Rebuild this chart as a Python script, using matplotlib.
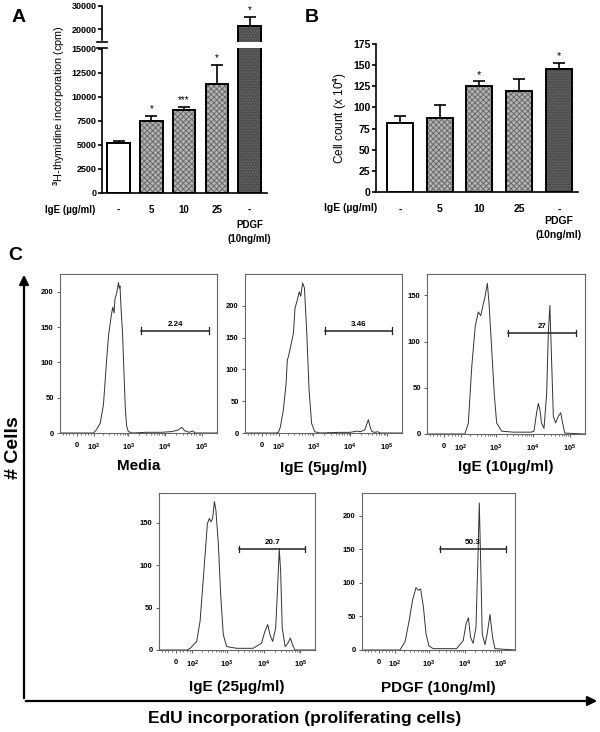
import numpy as np
import matplotlib
matplotlib.use('Agg')
import matplotlib.pyplot as plt
from matplotlib.patches import FancyArrowPatch

plt.rcParams['font.family'] = ['Liberation Sans', 'DejaVu Sans']
plt.rcParams['font.weight'] = 'bold'
plt.rcParams['mathtext.fontset'] = 'custom'
plt.rcParams['mathtext.rm'] = 'Liberation Sans'
plt.rcParams['mathtext.bf'] = 'Liberation Sans:bold'
plt.rcParams['hatch.linewidth'] = 0.7

# ---- panel A / B data ----
groups = ['-', '5', '10', '25', '-']
thy_mean = [5210, 7500, 8620, 11320, 21500]
thy_err = [200, 520, 340, 2050, 3800]
thy_stars = ['', '*', '***', '*', '*']

count_mean = [81, 87, 125, 120, 145]
count_err = [9, 16, 6, 14, 8]
count_stars = ['', '', '*', '', '*']

# ---- panel C histograms (EdU fluorescence, # cells) ----
media_x = [-104, 60, 99, 127, 165, 205, 235, 254, 290, 340, 375, 410, 433, 483, 540, 570, 595, 630, 700,
           770, 830, 900, 1000, 1300, 3000, 8000, 15000, 22000, 28000, 34000, 45000, 55000, 65000, 90000, 252000]
media_y = [0, 0, 0, 5, 14, 40, 80, 105, 140, 165, 178, 170, 190, 198, 213, 205, 208, 180, 140,
           80, 35, 10, 2, 0, 1, 1, 2, 4, 8, 3, 1, 3, 0, 0, 0]

ige5_x = [-104, 80, 99, 115, 144, 175, 190, 205, 225, 285, 315, 365, 415, 455, 510, 575, 665, 770, 900, 1100,
          1500, 5000, 10000, 14900, 19000, 24800, 28000, 31000, 34500, 38000, 45000, 56000, 65000, 252000]
ige5_y = [0, 0, 1, 9, 36, 78, 115, 120, 130, 157, 196, 209, 222, 215, 236, 228, 157, 67, 15, 2,
          0, 1, 1, 3, 2, 5, 14, 21, 10, 3, 1, 2, 0, 0]

ige10_x = [-104, 100, 137, 175, 220, 275, 335, 392, 440, 510, 595, 670, 780, 910, 1060, 1450, 3000, 6000, 9000,
           10700, 12600, 14000, 15500, 17000, 19900, 23500, 26000, 28600, 31200, 35500, 41000, 48000, 56000,
           63000, 72000, 252000]
ige10_y = [0, 0, 0, 12, 73, 116, 132, 128, 137, 148, 163, 137, 91, 44, 12, 3, 2, 2, 2,
           3, 23, 33, 26, 12, 6, 44, 109, 139, 91, 19, 12, 19, 23,
           12, 1, 0]

ige25_x = [-104, 60, 84, 140, 178, 212, 250, 290, 330, 365, 407, 455, 500, 585, 675, 800, 990, 1850, 5200,
           8800, 10900, 13000, 15000, 17700, 21400, 24200, 26800, 29200, 32300, 38700, 46000, 53500, 62000,
           71500, 252000]
ige25_y = [0, 0, 2, 10, 34, 74, 113, 149, 155, 151, 155, 175, 165, 125, 66, 18, 4, 2, 2,
           8, 22, 30, 18, 10, 26, 74, 119, 93, 26, 4, 8, 14, 6,
           0, 0]

pdgf_x = [-104, 100, 150, 215, 285, 355, 445, 515, 600, 720, 850, 1030, 1350, 6000, 9200, 11000, 12800, 14700,
          17300, 20800, 23500, 25700, 28000, 31000, 37000, 42500, 51000, 60000, 70000, 252000]
pdgf_y = [0, 0, 0, 12, 44, 74, 93, 89, 91, 64, 24, 6, 2, 2, 14, 39, 48, 19,
          10, 34, 134, 219, 134, 24, 8, 24, 53, 19, 2, 0]

hist_titles = ['Media', 'IgE (5\u00b5g/ml)', 'IgE (10\u00b5g/ml)', 'IgE (25\u00b5g/ml)', 'PDGF (10ng/ml)']
gate_lo = [2200, 2100, 2200, 2200, 2100]
gate_hi = [155000, 138000, 140000, 135000, 140000]
gate_y = [145, 161, 109, 119, 151]
gate_pct = ['2.24', '3.46', '27', '20.7', '50.3']
hist_ymax = [225, 250, 173, 185, 234]

W, H = 600, 732
fig = plt.figure(figsize=(6, 7.32), dpi=100)


def px_axes(x0, y0, x1, y1):
    return fig.add_axes([x0 / W, (H - y1) / H, (x1 - x0) / W, (y1 - y0) / H])


light = '#b4b4b4'
dark = '#4e4e4e'
faces = ['white', light, light, light, dark]
hatches = [None, 'xxxxxx', 'xxxxxx', 'xxxxxx', '......']
hcols = ['white', '#6a6a6a', '#6a6a6a', '#6a6a6a', '#6c6c6c']


def draw_bars(ax, x, mean, err, width):
    for i in range(len(x)):
        ax.bar(x[i], mean[i], width, color=faces[i], edgecolor=hcols[i], hatch=hatches[i], lw=0, zorder=2)
        ax.bar(x[i], mean[i], width, fill=False, edgecolor='black', lw=1.4, zorder=3)
    ax.errorbar(x, mean, yerr=[[0] * len(x), err], fmt='none', ecolor='black',
                elinewidth=1.2, capsize=4, capthick=1.2, zorder=1)


def stars(ax, x, mean, err, labels, fs):
    for xi, m, e, s in zip(x, mean, err, labels):
        if s:
            ax.annotate(s, (xi, m + e), xytext=(0, 1), textcoords='offset points',
                        ha='center', va='bottom', fontsize=fs, fontweight='normal')


# ---------------- Panel A ----------------
x = np.arange(5)
axA = px_axes(102, 47.7, 267, 192.7)
axA_hi = px_axes(102, 5, 267, 42.3)
for ax in (axA, axA_hi):
    draw_bars(ax, x, thy_mean, thy_err, 0.69)
    ax.set_xlim(-0.51, 4.535)
    for s in ('top', 'right'):
        ax.spines[s].set_visible(False)
    ax.spines['left'].set_linewidth(1.2)
    ax.spines['bottom'].set_linewidth(1.2)
    ax.tick_params(axis='y', labelsize=6.5, length=3, width=1.2, pad=1)
axA.set_ylim(0, 15135)
axA.spines['left'].set_bounds(0, 15000)
axA.set_yticks(np.arange(0, 15001, 2500))
axA.set_xticks(x, groups)
axA.tick_params(axis='x', length=0, labelsize=7, pad=9)
axA_hi.set_ylim(14500, 30300)
axA_hi.spines['left'].set_bounds(15500, 30000)
axA_hi.spines['bottom'].set_visible(False)
axA_hi.set_yticks([20000, 30000])
axA_hi.set_xticks([])
stars(axA, x[:4], thy_mean[:4], thy_err[:4], thy_stars[:4], 7)
stars(axA_hi, x[4:], thy_mean[4:], thy_err[4:], thy_stars[4:], 7)
axA_hi.plot([-0.03, 0.03], [0, 0], transform=axA_hi.transAxes, color='black', lw=1.2, clip_on=False)
axA.plot([-0.03, 0.03], [1.0, 1.0], transform=axA.transAxes, color='black', lw=1.2, clip_on=False)
axA.set_ylabel('$^{3}$H-thymidine incorporation (cpm)', fontsize=7.8, fontweight='normal')
axA.yaxis.set_label_coords(-0.21, 0.6)
axA.text(-1.49, -0.117, 'IgE (\u00b5g/ml)', transform=axA.get_xaxis_transform(), ha='center', va='center',
         fontsize=7, clip_on=False)
axA.text(4, -0.19, 'PDGF\n(10ng/ml)', transform=axA.get_xaxis_transform(), ha='center', va='top',
         fontsize=7, linespacing=1.5)
fig.text(12 / W, 1 - 17 / H, 'A', fontsize=14, va='center', ha='left')

# ---------------- Panel B ----------------
axB = px_axes(376, 44, 578, 192)
draw_bars(axB, x, count_mean, count_err, 0.65)
axB.set_xlim(-0.6, 4.48)
axB.set_ylim(0, 175)
axB.set_yticks(np.arange(0, 176, 25))
for s in ('top', 'right'):
    axB.spines[s].set_visible(False)
axB.spines['left'].set_linewidth(1.2)
axB.spines['bottom'].set_linewidth(1.2)
axB.tick_params(axis='y', labelsize=7.5, length=3, width=1.2, pad=1)
axB.set_xticks(x, groups)
axB.tick_params(axis='x', length=0, labelsize=7.5, pad=9)
stars(axB, x, count_mean, count_err, count_stars, 8)
axB.set_ylabel('Cell count (x 10$^{4}$)', fontsize=8.5, fontweight='normal', labelpad=3)
axB.text(-1.23, -0.108, 'IgE (\u00b5g/ml)', transform=axB.get_xaxis_transform(), ha='center', va='center',
         fontsize=7.5, clip_on=False)
axB.text(4, -0.16, 'PDGF\n(10ng/ml)', transform=axB.get_xaxis_transform(), ha='center', va='top',
         fontsize=7.5, linespacing=1.5)
fig.text(305 / W, 1 - 17 / H, 'B', fontsize=14, va='center', ha='left')

# ---------------- Panel C ----------------
fig.text(8 / W, 1 - 256 / H, 'C', fontsize=14, va='center', ha='left')


def fwd(v):
    return np.arcsinh(np.asarray(v, dtype=float) / 82.0)


def inv(v):
    return 82.0 * np.sinh(np.asarray(v, dtype=float))


boxes = [(60, 274, 217, 433), (245, 274, 402, 433), (427, 274, 585, 434),
         (159, 493, 315, 650), (362, 493, 515, 650)]
title_off = [-0.21, -0.22, -0.205, -0.234, -0.24]
series = [(media_x, media_y), (ige5_x, ige5_y), (ige10_x, ige10_y), (ige25_x, ige25_y), (pdgf_x, pdgf_y)]
minor = [-80, -60, -40, -20, 20, 40, 60, 80]
for d in range(2, 5):
    minor += [k * 10 ** d for k in range(2, 10)]

for i, (b, (hx, hy)) in enumerate(zip(boxes, series)):
    ax = px_axes(*b)
    ax.set_xscale('function', functions=(fwd, inv))
    ax.plot(hx, hy, color='#333333', lw=0.7)
    ax.set_xlim(-104, 252000)
    ax.set_ylim(0, hist_ymax[i])
    ax.set_yticks(np.arange(0, hist_ymax[i], 50))
    ax.set_xticks([0, 100, 1000, 10000, 100000],
                  ['0', r'$\mathbf{10^{2}}$', r'$\mathbf{10^{3}}$', r'$\mathbf{10^{4}}$', r'$\mathbf{10^{5}}$'])
    ax.set_xticks(minor, minor=True)
    for s in ax.spines.values():
        s.set_color('#666666')
        s.set_linewidth(0.8)
    ax.tick_params(axis='both', which='major', labelsize=5.5, length=2.5, width=0.6, pad=2, color='#444444')
    ax.tick_params(axis='x', which='minor', length=1.5, width=0.5, color='#444444')
    ax.tick_params(axis='x', which='major', pad=4)
    # gate
    ax.plot([gate_lo[i], gate_hi[i]], [gate_y[i], gate_y[i]], color='#222222', lw=1.1)
    ax.plot([gate_lo[i], gate_lo[i]], [gate_y[i] - hist_ymax[i] * 0.02, gate_y[i] + hist_ymax[i] * 0.02],
            color='#222222', lw=0.9)
    ax.plot([gate_hi[i], gate_hi[i]], [gate_y[i] - hist_ymax[i] * 0.02, gate_y[i] + hist_ymax[i] * 0.02],
            color='#222222', lw=0.9)
    gx = inv((fwd(gate_lo[i]) + fwd(gate_hi[i])) / 2)
    ax.annotate(gate_pct[i], (gx, gate_y[i]), xytext=(0, 2), textcoords='offset points',
                ha='center', va='bottom', fontsize=5.8)
    ax.text(0.5, title_off[i], hist_titles[i], transform=ax.transAxes, ha='center', va='center', fontsize=11)

# axis arrows for panel C
fig.add_artist(FancyArrowPatch((24 / W, 1 - 701 / H), (24 / W, 1 - 272 / H), transform=fig.transFigure,
                               arrowstyle='-|>', mutation_scale=14, lw=1.6, color='black'))
fig.add_artist(FancyArrowPatch((23 / W, 1 - 701 / H), (600 / W, 1 - 701 / H), transform=fig.transFigure,
                               arrowstyle='-|>', mutation_scale=14, lw=1.6, color='black'))
fig.text(14 / W, 1 - 448 / H, '# Cells', rotation=90, fontsize=14, ha='center', va='center')
fig.text(305 / W, 1 - 718 / H, 'EdU incorporation (proliferating cells)', fontsize=12.5, ha='center', va='center')

fig.savefig('out.png', dpi=100)
